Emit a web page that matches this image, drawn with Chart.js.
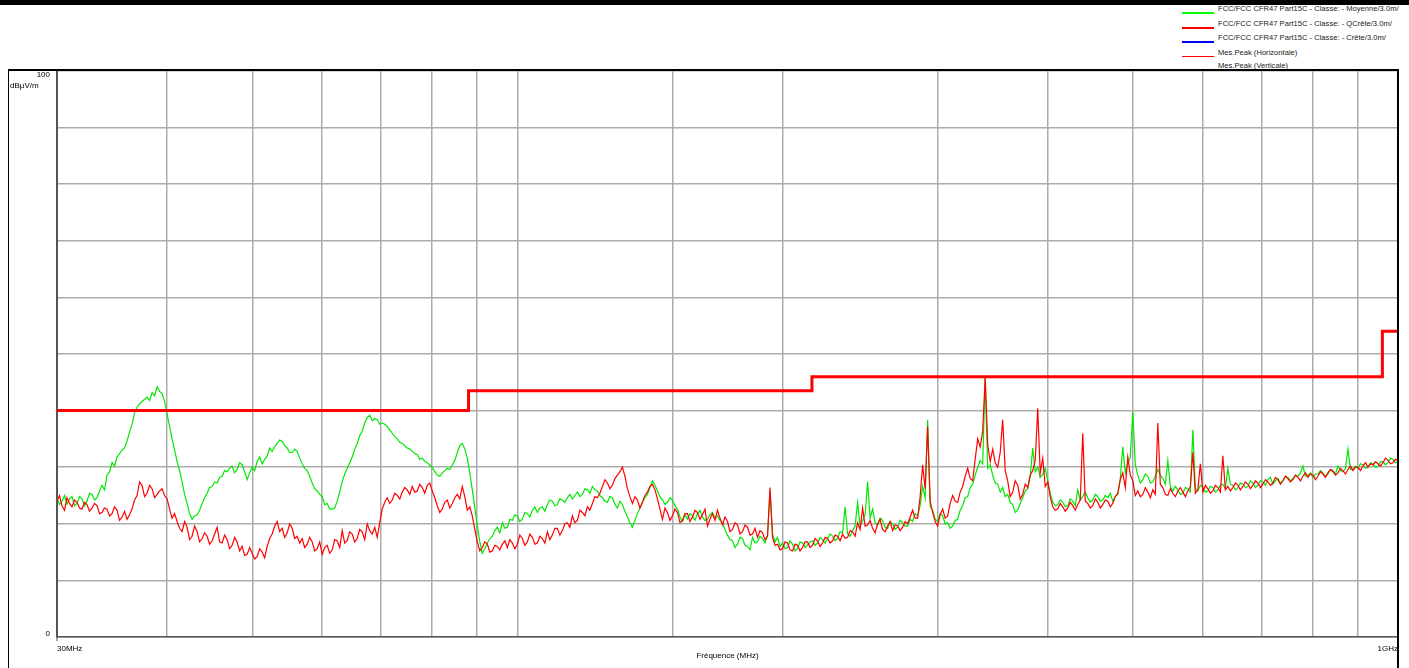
<!DOCTYPE html>
<html lang="fr">
<head>
<meta charset="utf-8">
<title>Mesure rayonnée 30MHz - 1GHz</title>
<script src="https://cdn.jsdelivr.net/npm/chart.js@4.4.1/dist/chart.umd.min.js"></script>
<style>
  html, body { margin: 0; padding: 0; background: #fff; overflow: hidden; }
  body { width: 1409px; height: 668px; position: relative; font-family: 'Liberation Sans', Arial, sans-serif; }
  #topBar { position: absolute; left: 0; top: 0; width: 1409px; height: 5px; background: #000; }
  #legend { position: absolute; left: 1182px; top: 0; font-size: 7.6px; color: #222; }
  .lg-row { position: absolute; left: 0; height: 10px; line-height: 10px; white-space: nowrap; }
  .lg-line { position: absolute; left: 0; width: 32px; }
  .lg-text { position: absolute; left: 36px; top: 0; }
  #unit { position: absolute; left: 10px; top: 81px; font-size: 8px; line-height: 10px; color: #000; z-index: 2; }
  #chart { position: absolute; left: 0; top: 0; z-index: 1; }
</style>
</head>
<body>
<div id="topBar"></div>
<div id="legend"></div>
<div id="unit">dBµV/m</div>
<canvas id="chart" width="1409" height="668"></canvas>

<script>
// Sweep: 30 MHz .. 1 GHz, log spaced, one value per sweep point
const sweepStartMHz = 30;
const sweepStopMHz = 1000;

// Mes.Peak (Horizontale) - dBµV/m
const peakHorizontal = [
    24.0, 25.0, 23.2, 22.4, 24.6, 23.6, 23.0, 24.2, 23.8, 22.8, 22.6, 23.8, 23.4, 22.2, 22.8, 23.6, 23.2, 21.8, 22.0, 22.8,
    22.6, 21.4, 21.8, 23.0, 22.4, 20.6, 21.2, 22.2, 20.8, 21.6, 22.6, 24.2, 25.0, 27.4, 26.8, 24.8, 25.4, 26.8, 26.2, 24.6,
    25.2, 25.8, 26.2, 25.0, 24.4, 22.6, 21.0, 21.8, 20.4, 19.2, 18.6, 20.4, 19.4, 17.2, 17.8, 19.6, 18.6, 16.8, 17.4, 18.4,
    17.8, 16.4, 17.0, 18.2, 19.4, 16.8, 16.6, 18.0, 17.2, 15.6, 16.2, 17.6, 16.8, 15.2, 16.0, 14.4, 14.6, 15.8, 14.8, 13.8,
    14.2, 15.6, 15.0, 14.0, 16.0, 17.4, 18.2, 19.6, 20.4, 18.6, 19.2, 17.6, 18.4, 20.0, 19.2, 17.4, 17.8, 16.6, 17.4, 15.8,
    16.4, 17.6, 16.8, 15.2, 15.6, 16.8, 14.6, 15.8, 16.2, 14.8, 15.4, 17.2, 17.0, 15.8, 18.8, 16.6, 17.0, 18.6, 18.2, 16.8,
    17.4, 19.0, 18.6, 17.2, 20.0, 18.8, 18.2, 19.4, 17.6, 20.2, 22.6, 23.8, 24.6, 23.6, 24.2, 25.4, 25.0, 24.4, 25.6, 26.4,
    26.0, 25.2, 26.6, 25.6, 25.8, 27.0, 26.4, 25.4, 26.8, 27.2, 25.8, 24.6, 23.2, 22.0, 22.6, 23.8, 24.2, 22.8, 23.6, 24.6,
    25.2, 24.4, 26.6, 24.8, 22.4, 23.0, 21.4, 19.0, 16.8, 15.2, 15.8, 16.8, 16.4, 15.0, 15.2, 16.2, 16.0, 15.4, 16.4, 17.0,
    15.8, 17.2, 16.6, 15.6, 16.4, 18.0, 17.4, 16.2, 16.8, 18.2, 17.6, 16.4, 16.6, 17.8, 17.4, 16.6, 18.6, 17.2, 18.0, 19.2,
    19.2, 18.0, 18.8, 20.0, 20.2, 19.4, 21.4, 20.2, 20.6, 22.4, 22.0, 21.4, 23.0, 22.4, 23.6, 24.8, 24.6, 25.4, 26.6, 27.8,
    27.2, 26.2, 26.8, 28.0, 28.6, 29.2, 30.0, 28.4, 26.2, 24.8, 23.6, 24.8, 24.2, 22.8, 23.8, 25.0, 25.6, 26.6, 27.0, 26.0,
    24.4, 22.6, 20.8, 22.8, 22.0, 20.6, 21.4, 22.6, 22.0, 20.2, 20.6, 21.8, 21.8, 20.4, 21.2, 22.4, 22.0, 20.8, 21.6, 22.6,
    19.6, 20.8, 21.8, 20.6, 22.4, 21.0, 19.8, 21.2, 20.4, 18.6, 19.0, 20.2, 19.8, 18.2, 18.6, 19.8, 19.4, 18.0, 18.2, 19.2,
    17.6, 18.8, 18.4, 17.2, 17.8, 26.4, 17.6, 16.2, 16.4, 15.4, 15.6, 16.8, 16.6, 15.4, 15.2, 16.4, 16.2, 15.2, 15.8, 16.8,
    16.8, 15.8, 16.2, 17.4, 17.0, 16.0, 16.6, 17.6, 17.4, 16.6, 17.0, 18.0, 17.8, 17.0, 18.2, 17.4, 17.6, 18.8, 18.6, 17.8,
    20.2, 19.0, 22.8, 19.6, 19.8, 20.6, 19.2, 18.4, 20.0, 20.8, 19.0, 18.6, 19.6, 20.4, 18.8, 19.8, 19.6, 18.8, 19.4, 20.4,
    20.0, 21.2, 22.4, 21.0, 21.0, 24.8, 30.4, 26.2, 37.2, 24.0, 22.0, 20.4, 19.6, 21.6, 22.6, 21.0, 21.4, 23.6, 25.0, 24.0,
    23.8, 25.6, 26.6, 28.4, 29.8, 28.0, 27.6, 31.4, 35.0, 33.6, 36.4, 45.8, 34.0, 31.0, 33.2, 30.8, 30.0, 32.6, 38.4, 29.4,
    27.6, 24.8, 25.6, 27.6, 26.8, 24.4, 25.2, 27.0, 26.4, 28.6, 29.4, 31.2, 40.4, 29.0, 31.6, 26.6, 27.4, 24.8, 23.0, 22.4,
    22.6, 23.6, 23.0, 22.2, 22.8, 23.8, 23.2, 22.4, 23.4, 24.2, 36.0, 24.0, 23.6, 22.8, 23.2, 24.4, 23.8, 22.8, 23.4, 24.2,
    24.0, 23.0, 23.6, 24.8, 25.4, 27.8, 29.0, 26.4, 31.8, 28.6, 27.6, 25.0, 25.8, 24.8, 25.2, 26.4, 25.6, 24.6, 26.0, 25.2,
    37.8, 27.0, 26.4, 25.2, 25.0, 26.2, 25.4, 24.8, 25.8, 26.4, 25.6, 24.8, 25.8, 26.6, 32.6, 25.4, 26.0, 30.6, 25.6, 26.8,
    26.2, 25.4, 25.8, 26.8, 26.4, 25.6, 32.0, 26.0, 26.6, 25.8, 26.4, 27.2, 26.8, 26.0, 26.6, 27.4, 27.0, 26.2, 26.8, 27.6,
    27.2, 26.4, 27.0, 27.8, 27.4, 26.8, 27.2, 28.2, 27.8, 27.0, 27.6, 28.4, 28.0, 27.4, 27.8, 28.6, 28.2, 27.6, 28.4, 29.0,
    28.2, 28.8, 28.6, 27.8, 28.4, 29.2, 28.8, 28.2, 29.0, 29.6, 29.2, 28.6, 29.0, 29.8, 29.4, 28.8, 29.6, 30.2, 29.4, 30.0,
    30.0, 29.4, 30.2, 30.8, 30.0, 30.6, 30.4, 31.0, 30.6, 30.2, 30.8, 31.6, 31.2, 30.6, 30.8, 31.4, 31.2
];

// Mes.Peak (Verticale) - dBµV/m
const peakVertical = [
    24.5, 23.4, 24.0, 25.0, 23.5, 24.4, 24.8, 23.2, 23.6, 24.8, 24.4, 23.2, 24.0, 25.4, 25.2, 24.2, 24.6, 25.8, 26.8, 26.0,
    28.6, 29.2, 30.8, 30.2, 31.8, 32.4, 33.0, 33.4, 34.6, 36.2, 37.6, 39.6, 40.6, 41.2, 41.6, 42.0, 42.4, 41.8, 43.2, 42.6,
    44.2, 43.4, 43.0, 41.6, 39.4, 37.2, 35.0, 33.0, 31.0, 29.4, 27.4, 25.2, 23.6, 21.8, 20.8, 21.4, 21.6, 22.4, 23.6, 24.6,
    25.4, 26.4, 26.6, 27.4, 27.2, 28.2, 28.4, 29.4, 29.2, 29.8, 30.2, 29.0, 29.6, 30.8, 30.4, 29.2, 27.8, 29.0, 30.0, 29.4,
    31.0, 31.8, 30.6, 31.4, 32.0, 33.4, 32.8, 33.6, 34.2, 34.8, 34.6, 33.8, 33.4, 32.6, 32.6, 33.2, 32.8, 31.6, 30.6, 29.8,
    29.4, 28.4, 27.2, 26.2, 25.8, 25.2, 24.8, 23.4, 23.6, 22.6, 22.6, 22.8, 24.0, 25.6, 27.4, 28.8, 29.8, 30.8, 31.8, 33.2,
    34.2, 35.6, 36.4, 37.8, 38.8, 39.2, 38.2, 38.6, 38.4, 37.6, 37.8, 37.6, 37.2, 36.6, 36.0, 35.4, 35.0, 34.4, 34.2, 33.8,
    33.4, 33.2, 32.8, 32.4, 32.2, 31.4, 31.6, 31.0, 30.8, 30.4, 30.0, 29.2, 28.6, 28.4, 29.0, 29.4, 29.8, 29.6, 30.4, 31.2,
    32.6, 33.8, 34.2, 33.2, 31.6, 29.0, 26.0, 22.8, 19.6, 16.8, 14.8, 15.6, 16.6, 17.4, 17.8, 18.8, 19.4, 18.4, 20.2, 19.2,
    19.4, 20.8, 20.6, 21.6, 21.4, 20.4, 20.8, 22.0, 21.8, 21.2, 22.4, 23.0, 22.0, 22.8, 23.0, 22.2, 23.4, 24.2, 24.0, 23.2,
    23.4, 24.4, 24.2, 23.8, 24.6, 25.2, 24.4, 25.0, 25.6, 24.8, 25.2, 26.2, 26.0, 25.4, 26.6, 26.0, 25.8, 25.0, 24.6, 24.0,
    23.8, 24.8, 24.6, 23.4, 22.8, 24.0, 23.4, 22.2, 21.2, 20.2, 19.4, 20.6, 21.8, 22.8, 23.8, 24.6, 25.2, 26.4, 27.6, 26.8,
    25.8, 24.8, 24.2, 23.4, 23.8, 24.6, 24.2, 23.2, 22.6, 21.2, 20.4, 21.6, 20.8, 21.8, 21.4, 20.6, 21.8, 22.4, 21.2, 20.6,
    20.8, 21.6, 22.0, 21.0, 21.4, 20.6, 20.2, 19.0, 18.0, 17.2, 17.0, 15.8, 16.4, 17.6, 17.4, 16.2, 16.0, 15.4, 17.6, 16.6,
    16.8, 17.8, 17.4, 16.6, 18.0, 25.8, 18.2, 16.8, 17.6, 16.0, 16.6, 15.6, 15.8, 17.0, 16.4, 15.2, 15.6, 16.8, 16.6, 15.8,
    16.2, 16.8, 17.0, 16.2, 16.6, 17.6, 17.2, 16.6, 17.4, 18.2, 17.8, 17.0, 17.4, 18.6, 18.4, 23.0, 18.2, 17.8, 18.8, 19.6,
    23.8, 19.6, 20.6, 21.6, 27.4, 21.0, 22.6, 20.2, 19.8, 21.0, 20.6, 19.4, 19.2, 20.4, 20.0, 19.0, 19.4, 20.6, 20.2, 19.6,
    19.6, 20.8, 20.4, 21.8, 21.4, 23.2, 26.6, 24.6, 38.4, 23.0, 22.4, 20.8, 20.4, 21.8, 21.4, 20.0, 20.2, 19.2, 19.6, 20.6,
    20.8, 22.4, 23.2, 24.6, 24.8, 26.4, 27.0, 28.6, 30.0, 31.2, 30.6, 46.0, 29.8, 30.4, 28.6, 27.2, 27.0, 25.6, 26.4, 24.8,
    25.2, 23.8, 23.4, 22.0, 22.4, 23.6, 24.6, 25.8, 26.2, 28.4, 33.4, 29.2, 30.0, 28.2, 28.8, 29.8, 27.6, 25.4, 23.8, 23.2,
    23.4, 24.2, 23.8, 23.0, 23.2, 24.4, 24.0, 23.2, 26.0, 24.2, 24.8, 25.6, 24.6, 23.8, 24.2, 25.2, 24.8, 24.0, 24.2, 25.0,
    24.6, 25.4, 24.0, 24.8, 25.2, 28.0, 33.6, 29.0, 30.6, 31.8, 39.8, 30.4, 28.6, 27.2, 27.8, 28.8, 28.4, 27.2, 27.4, 28.4,
    29.6, 28.6, 28.0, 27.0, 31.2, 26.6, 25.8, 26.6, 26.0, 25.2, 25.4, 26.4, 26.2, 25.6, 36.6, 26.2, 25.8, 26.8, 26.4, 25.6,
    25.8, 26.6, 26.4, 25.6, 26.0, 26.8, 27.0, 26.2, 29.8, 27.0, 26.8, 26.0, 26.4, 27.2, 27.0, 26.4, 26.6, 27.6, 27.2, 26.4,
    26.8, 27.6, 27.4, 26.8, 27.8, 28.2, 27.0, 27.6, 28.0, 27.2, 27.6, 28.4, 28.2, 27.6, 28.0, 28.6, 28.4, 29.0, 30.2, 28.4,
    28.6, 29.0, 28.2, 28.8, 28.8, 29.4, 29.0, 28.4, 28.8, 29.6, 29.4, 28.8, 30.2, 29.4, 29.2, 29.8, 33.2, 29.6, 29.6, 30.2,
    29.8, 30.6, 30.4, 29.8, 30.0, 30.8, 30.6, 30.0, 30.2, 31.0, 31.0, 30.4, 30.8, 31.6, 31.4, 30.8, 31.0
];

// FCC Part 15C QP limit @ 3 m (step corners)
const limitFreqMHz = [30, 88, 216, 960, 1000];
const limitQP = [40, 43.5, 46, 54, 54];

const yTickLabels = { 0: ['0', ''], 100: ['', '100'] };

const legendItems = [
    { label: 'FCC/FCC CFR47 Part15C - Classe: - Moyenne/3.0m/', color: '#00ff00', width: 2 },
    { label: 'FCC/FCC CFR47 Part15C - Classe: - QCrête/3.0m/', color: '#ff0000', width: 2 },
    { label: 'FCC/FCC CFR47 Part15C - Classe: - Crête/3.0m/', color: '#0000ff', width: 2 },
    { label: 'Mes.Peak (Horizontale)', color: '#ff0000', width: 1 },
    { label: 'Mes.Peak (Verticale)', color: '#00ff00', width: 1 }
];
const legendRowTops = [4, 19, 33, 48, 61];

// Build legend
function buildLegend() {
    const box = document.getElementById('legend');
    legendItems.forEach((item, i) => {
        const row = document.createElement('div');
        row.className = 'lg-row';
        row.style.top = legendRowTops[i] + 'px';
        row.innerHTML = `
            <div class="lg-line" style="top:8px;height:${item.width}px;background:${item.color}"></div>
            <span class="lg-text">${item.label}</span>`;
        box.appendChild(row);
    });
}

// Sweep frequencies for a trace
function sweepFrequencies(count) {
    const out = [];
    for (let i = 0; i < count; i++) {
        out.push(sweepStartMHz * Math.pow(sweepStopMHz / sweepStartMHz, i / (count - 1)));
    }
    return out;
}

function toPoints(xs, ys) {
    return ys.map((y, i) => ({ x: xs[i], y: y }));
}

// Outer frame around plot (as in the original report)
const framePlugin = {
    id: 'frame',
    afterDraw(chart) {
        const { ctx, chartArea: a } = chart;
        ctx.save();
        ctx.strokeStyle = '#000';
        ctx.lineWidth = 2;
        ctx.beginPath();
        ctx.moveTo(8, a.top - 1);
        ctx.lineTo(a.right + 1, a.top - 1);
        ctx.moveTo(a.right, a.top - 1);
        ctx.lineTo(a.right, chart.height);
        ctx.stroke();
        ctx.lineWidth = 1;
        ctx.beginPath();
        ctx.moveTo(8.5, a.top - 1);
        ctx.lineTo(8.5, chart.height);
        ctx.stroke();
        ctx.strokeStyle = '#555';
        ctx.beginPath();
        ctx.moveTo(a.left, a.bottom);
        ctx.lineTo(a.left, a.bottom + 4);
        ctx.stroke();
        ctx.restore();
    }
};

function initChart() {
    Chart.defaults.font.family = "'Liberation Sans', Arial, sans-serif";
    Chart.defaults.font.size = 8;
    Chart.defaults.color = '#000';

    const freqs = sweepFrequencies(peakHorizontal.length);
    const near = (v, t) => Math.abs(v - t) < 0.01;

    new Chart(document.getElementById('chart'), {
        type: 'line',
        data: {
            datasets: [
                {
                    label: 'FCC/FCC CFR47 Part15C - Classe: - QCrête/3.0m/',
                    data: toPoints(limitFreqMHz, limitQP),
                    borderColor: '#ff0000',
                    borderWidth: 3,
                    stepped: 'before',
                    order: 0
                },
                {
                    label: 'Mes.Peak (Horizontale)',
                    data: toPoints(freqs, peakHorizontal),
                    borderColor: '#ff0000',
                    borderWidth: 1.2,
                    order: 1
                },
                {
                    label: 'Mes.Peak (Verticale)',
                    data: toPoints(freqs, peakVertical),
                    borderColor: '#00e800',
                    borderWidth: 1.2,
                    order: 2
                }
            ]
        },
        options: {
            responsive: false,
            animation: false,
            layout: { padding: { left: 8, right: 11, top: 71, bottom: 0 } },
            elements: { point: { radius: 0 }, line: { tension: 0 } },
            plugins: { legend: { display: false }, tooltip: { enabled: false } },
            scales: {
                x: {
                    type: 'logarithmic',
                    min: sweepStartMHz,
                    max: sweepStopMHz,
                    grid: { color: '#ababab', lineWidth: 1.5, drawTicks: false },
                    border: { color: '#555', width: 1.5 },
                    ticks: {
                        autoSkip: false,
                        maxRotation: 0,
                        align: 'inner',
                        padding: 7,
                        callback: v => near(v, 30) ? '30MHz' : (near(v, 1000) ? '1GHz' : '')
                    },
                    title: {
                        display: true,
                        text: 'Fréquence (MHz)',
                        padding: { top: 0, bottom: 7 }
                    },
                    afterFit: s => { s.height = 31; }
                },
                y: {
                    min: 0,
                    max: 100,
                    grid: { color: '#ababab', lineWidth: 1.5, drawTicks: false },
                    border: { color: '#555', width: 2 },
                    ticks: {
                        stepSize: 10,
                        padding: 7,
                        font: { lineHeight: 0.9 },
                        callback: v => yTickLabels[v] || ''
                    },
                    afterFit: s => { s.width = 49; }
                }
            }
        },
        plugins: [framePlugin]
    });
}

document.addEventListener('DOMContentLoaded', () => {
    buildLegend();
    initChart();
});
</script>
</body>
</html>
